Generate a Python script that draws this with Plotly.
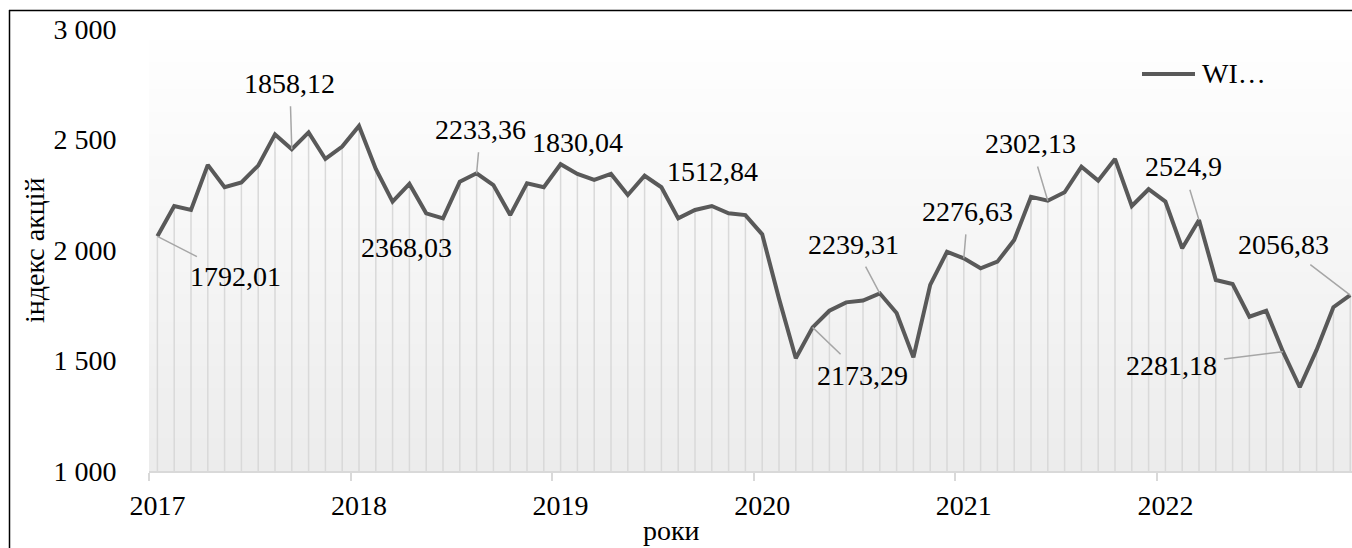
import plotly.graph_objects as go

# ---------------- data ----------------
years = ["2017", "2018", "2019", "2020", "2021", "2022"]
months_per_year = 12

index_values = [
    2062, 2199, 2181, 2385, 2284, 2306, 2382, 2523, 2456, 2532, 2412, 2468,   # 2017
    2561, 2367, 2219, 2299, 2166, 2143, 2309, 2347, 2294, 2158, 2302, 2284,   # 2018
    2388, 2344, 2317, 2344, 2249, 2336, 2284, 2143, 2181, 2199, 2166, 2158,   # 2019
    2071, 1780, 1510, 1650, 1725, 1763, 1771, 1804, 1715, 1514, 1842, 1992,   # 2020
    1962, 1917, 1947, 2045, 2241, 2223, 2261, 2377, 2314, 2412, 2199, 2275,   # 2021
    2219, 2008, 2136, 1864, 1846, 1698, 1725, 1540, 1379, 1548, 1741, 1796,   # 2022
]

label_texts = ["1792,01", "1858,12", "2368,03", "2233,36", "1830,04", "1512,84",
               "2239,31", "2173,29", "2276,63", "2302,13", "2524,9", "2056,83", "2281,18"]
label_points = [0, 8, 14, 19, 24, 30, 43, 39, 48, 53, 62, 71, 67]

series_name = "WI…"
x_title = "роки"
y_title = "індекс акцій"

# ---------------- styling / layout ----------------
FONT = "'Liberation Serif', 'Times New Roman', Tinos, 'DejaVu Serif', serif"
FS = 28
LINE_COLOR = "#595959"
DROP_COLOR = "#d9d9d9"
LEADER_COLOR = "#a6a6a6"

W, H = 1352, 548
L, R, T, B = 149, 0, 29, 77
PW, PH = W - L - R, H - T - B
MONTH_PX = 16.8
X_RANGE = [-0.5, -0.5 + PW / MONTH_PX]
Y_RANGE = [1000, 3000]

def px_x(px):
    return (px - L) / PW

def px_y(py):
    return (H - B - py) / PH

# label placement (pixel offsets from the point): (dx, dy, arrow)
label_layout = [
    (78, 40, True),
    (-2, -66, True),
    (14, 46, False),
    (4, -44, True),
    (17, -22, False),
    (51, -16, False),
    (-26, -49, True),
    (50, 48, True),
    (4, -47, True),
    (-17, -57, True),
    (-16, -53, True),
    (-67, -51, True),
    (-112, 14, True),
]

x = list(range(len(index_values)))

fig = go.Figure()

# drop lines
dx, dy = [], []
for xi, v in zip(x, index_values):
    dx += [xi, xi, None]
    dy += [Y_RANGE[0], v, None]
fig.add_trace(go.Scatter(x=dx, y=dy, mode="lines",
                         line=dict(color=DROP_COLOR, width=1.5),
                         hoverinfo="skip", showlegend=False))

# main line
fig.add_trace(go.Scatter(x=x, y=index_values, mode="lines", name=series_name,
                         line=dict(color=LINE_COLOR, width=4),
                         showlegend=False))

annotations = []
for txt, pi, (ox, oy, arrow) in zip(label_texts, label_points, label_layout):
    if arrow:
        annotations.append(dict(
            x=pi, y=index_values[pi], xref="x", yref="y", text=txt,
            showarrow=True, arrowhead=0, arrowwidth=1.5, arrowcolor=LEADER_COLOR,
            ax=ox, ay=oy, standoff=0, startstandoff=6,
            font=dict(family=FONT, size=FS, color="black")))
    else:
        annotations.append(dict(
            x=pi, y=index_values[pi], xref="x", yref="y", text=txt,
            showarrow=False, xshift=ox, yshift=-oy,
            font=dict(family=FONT, size=FS, color="black")))

# axis titles
annotations.append(dict(x=px_x(671), y=px_y(530), xref="paper", yref="paper",
                        text=x_title, showarrow=False, xanchor="center", yanchor="middle",
                        font=dict(family=FONT, size=FS, color="black")))
annotations.append(dict(x=px_x(34), y=px_y(250), xref="paper", yref="paper",
                        text=y_title, showarrow=False, textangle=-90,
                        xanchor="center", yanchor="middle",
                        font=dict(family=FONT, size=FS, color="black")))
# legend text
annotations.append(dict(x=px_x(1200), y=px_y(73), xref="paper", yref="paper",
                        text=series_name, showarrow=False, xanchor="left", yanchor="middle",
                        font=dict(family=FONT, size=FS, color="black")))

# plot-area background gradient (white at top -> light gray at bottom)
shapes = []
N_BANDS = 80
g_bottom, g_top = 236, 255
for k in range(N_BANDS):
    f0 = k / N_BANDS
    f1 = (k + 1) / N_BANDS
    g = round(g_bottom + (g_top - g_bottom) * ((f0 + f1) / 2))
    shapes.append(dict(
        type="rect", xref="paper", yref="paper", layer="below",
        x0=0, x1=1, y0=f0, y1=min(1.0, f1 + 0.002),
        fillcolor=f"rgb({g},{g},{g})", line=dict(width=0)))

shapes += [
    # legend line
    dict(type="line", xref="paper", yref="paper",
         x0=px_x(1142), x1=px_x(1195), y0=px_y(74), y1=px_y(74),
         line=dict(color=LINE_COLOR, width=4)),
    # chart border (left and top)
    dict(type="line", xref="paper", yref="paper",
         x0=px_x(9.5), x1=px_x(9.5), y0=px_y(10), y1=px_y(560),
         line=dict(color="black", width=1.5)),
    dict(type="line", xref="paper", yref="paper",
         x0=px_x(9), x1=px_x(1370), y0=px_y(10.5), y1=px_y(10.5),
         line=dict(color="black", width=1.5)),
]

fig.update_layout(
    width=W, height=H,
    margin=dict(l=L, r=R, t=T, b=B, pad=0),
    paper_bgcolor="white", plot_bgcolor="white",
    separators=", ",
    font=dict(family=FONT, size=FS, color="black"),
    showlegend=False,
    annotations=annotations,
    shapes=shapes,
)

fig.update_xaxes(
    range=X_RANGE, showgrid=False, zeroline=False,
    showline=True, linecolor=DROP_COLOR, linewidth=1.5,
    tickmode="array", tickvals=[i * months_per_year for i in range(len(years))],
    ticktext=years, ticks="outside", ticklen=9, tickcolor="rgba(0,0,0,0)",
    tickfont=dict(family=FONT, size=FS, color="black"),
    minor=dict(tickmode="array",
               tickvals=[i * months_per_year - 0.5 for i in range(len(years) + 1)],
               ticks="outside", ticklen=8, tickcolor=DROP_COLOR, tickwidth=1.5,
               showgrid=False),
)
fig.update_yaxes(
    range=Y_RANGE, showgrid=False, zeroline=False, showline=False,
    tickmode="array", tickvals=[1000, 1500, 2000, 2500, 3000], tickformat=",d",
    ticks="outside", ticklen=26, tickcolor="rgba(0,0,0,0)",
    tickfont=dict(family=FONT, size=FS, color="black"),
)

fig.write_html(
    "out.html",
    config={"displayModeBar": False},
    post_script="document.body.style.margin='0';document.body.style.overflow='hidden';",
)
